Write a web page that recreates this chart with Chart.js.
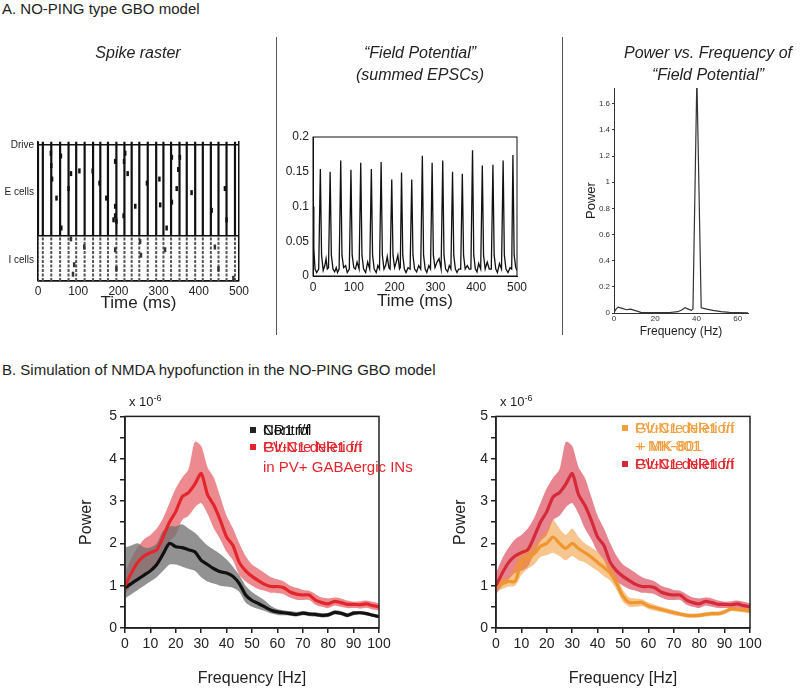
<!DOCTYPE html>
<html>
<head>
<meta charset="utf-8">
<script src="https://cdn.jsdelivr.net/npm/chart.js@4.4.1/dist/chart.umd.min.js"></script>
<style>
  body { margin: 0; background: #fff; width: 800px; height: 688px; position: relative; overflow: hidden;
         font-family: "Liberation Sans", Arial, sans-serif; color: #222; }
  .t { position: absolute; white-space: nowrap; line-height: 18px; z-index: 2; }
  .it { font-style: italic; font-size: 16px; text-align: center; width: 260px; }
  .sep { position: absolute; width: 1px; background: #555; }
  .sq { position: absolute; width: 6px; height: 6px; z-index: 2; }
  .lg { font-size: 15px; }
  canvas { position: absolute; }
</style>
</head>
<body>
<div class="t" style="left:2px;top:0px;font-size:15px">A. NO-PING type GBO model</div>
<div class="t it" style="left:8px;top:44px">Spike raster</div>
<div class="t it" style="left:290px;top:44px">“Field Potential”</div>
<div class="t it" style="left:290px;top:66px">(summed EPSCs)</div>
<div class="t it" style="left:578px;top:44px">Power vs. Frequency of</div>
<div class="t it" style="left:578px;top:66px">“Field Potential”</div>
<div class="sep" style="left:276px;top:37px;height:298px"></div>
<div class="sep" style="left:562px;top:37px;height:298px"></div>

<div class="t" style="left:2px;top:361px;font-size:15px">B. Simulation of NMDA hypofunction in the NO-PING GBO model</div>

<div class="t" style="left:129px;top:389px;font-size:13px">x 10<sup style="font-size:9px">-6</sup></div>
<div class="t" style="left:500px;top:389px;font-size:13px">x 10<sup style="font-size:9px">-6</sup></div>

<!-- legend, left -->
<div class="sq" style="left:250px;top:427px;background:#222"></div>
<div class="t lg" style="left:263px;top:421px;color:#111">Control</div>
<div class="t lg" style="left:263px;top:421px;color:#111">NR1 f/f</div>
<div class="sq" style="left:250px;top:444px;background:#e3262c"></div>
<div class="t lg" style="left:263px;top:438px;color:#e3262c">GluN1 deletion</div>
<div class="t lg" style="left:263px;top:438px;color:#e3262c">PV-Cre NR1 f/f</div>
<div class="t lg" style="left:263px;top:458px;color:#e3262c">in PV+ GABAergic INs</div>

<!-- legend, right -->
<div class="sq" style="left:622px;top:425px;background:#f0a040"></div>
<div class="t lg" style="left:635px;top:419px;color:#f0a040">GluN1 deletion</div>
<div class="t lg" style="left:635px;top:419px;color:#f0a040">PV-Cre NR1 f/f</div>
<div class="t lg" style="left:635px;top:437px;color:#f0a040">+ MK-801</div>
<div class="t lg" style="left:637px;top:437px;color:#f0a040">+ MK-801</div>
<div class="sq" style="left:622px;top:461px;background:#d42a3a"></div>
<div class="t lg" style="left:635px;top:455px;color:#e0282e">GluN1 deletion</div>
<div class="t lg" style="left:635px;top:455px;color:#e0282e">PV-Cre NR1 f/f</div>

<script>
// ---- A: spike raster ----
const cycleTimes = [0, 12, 33, 55, 76, 95, 116, 137, 155, 174, 195, 215, 233, 252, 273, 294, 312, 331, 352, 370, 391, 410, 430, 449, 469, 490];
const rowEdges = [0, 33, 100];          // I cells 0-33, E cells 33-100, drive at top
const driveTop = 102.5;
const rowLabels = ['I cells', 'E cells', 'Drive'];
const rowLabelAt = [15, 65, 100];
const eSpikeT   = [32, 57, 33, 103, 82, 35, 76, 46, 153, 136, 170, 192, 217, 214, 223, 192, 192, 188, 195, 213, 242, 271, 302, 304, 333, 353, 349, 345, 333, 320, 382, 432, 465, 469, 58];
const eSpikeRow = [94, 92, 85, 81, 79, 75, 68, 61, 72, 81, 61, 88, 94, 88, 79, 55, 48, 45, 44, 48, 55, 72, 75, 56, 91, 91, 82, 68, 58, 39, 65, 52, 68, 45, 39];
const iSpikeT   = [82, 115, 90, 87, 192, 195, 254, 256, 316, 440, 449, 486];
const iSpikeRow = [31, 25, 12, 5, 23, 9, 29, 19, 23, 25, 9, 2];

// ---- A: field potential ----
const fpTime = [0, 2, 5, 9, 14, 18, 21, 25, 29, 32, 35, 38, 42, 45, 49, 53, 57, 60, 64, 68, 71, 75, 80, 84, 89, 93, 96, 100, 104, 108, 113, 117, 120, 124, 129, 134, 139, 143, 146, 150, 155, 159, 163, 167, 170, 174, 178, 182, 186, 189, 193, 196, 200, 204, 208, 212, 214, 217, 220, 224, 228, 233, 238, 242, 245, 249, 254, 259, 264, 268, 271, 275, 279, 284, 288, 292, 295, 299, 304, 309, 314, 318, 321, 325, 330, 334, 338, 342, 345, 349, 353, 357, 362, 366, 369, 373, 378, 383, 387, 391, 394, 398, 402, 406, 411, 415, 418, 422, 427, 432, 437, 441, 444, 448, 452, 457, 462, 466, 469, 473, 478, 483, 487, 490, 493, 497, 500];
const fpValue = [0.1, 0.04, 0.01, 0.005, 0.01, 0.154, 0.03, 0.008, 0.015, 0.025, 0.01, 0.012, 0.15, 0.03, 0.01, 0.006, 0.012, 0.005, 0.01, 0.166, 0.03, 0.012, 0.015, 0.005, 0.01, 0.153, 0.03, 0.012, 0.01, 0.02, 0.01, 0.163, 0.03, 0.01, 0.005, 0.02, 0.01, 0.154, 0.03, 0.01, 0.005, 0.015, 0.01, 0.164, 0.03, 0.01, 0.015, 0.028, 0.012, 0.01, 0.139, 0.03, 0.012, 0.02, 0.03, 0.01, 0.012, 0.149, 0.03, 0.01, 0.005, 0.012, 0.01, 0.139, 0.03, 0.01, 0.006, 0.015, 0.01, 0.173, 0.03, 0.01, 0.005, 0.015, 0.01, 0.163, 0.03, 0.012, 0.02, 0.025, 0.01, 0.166, 0.03, 0.01, 0.006, 0.015, 0.01, 0.15, 0.03, 0.01, 0.005, 0.01, 0.01, 0.147, 0.03, 0.01, 0.015, 0.01, 0.01, 0.181, 0.03, 0.01, 0.006, 0.018, 0.01, 0.159, 0.03, 0.01, 0.02, 0.01, 0.01, 0.16, 0.03, 0.01, 0.005, 0.018, 0.01, 0.166, 0.03, 0.01, 0.005, 0.012, 0.01, 0.174, 0.03, 0.012, 0.008];
const fpTicks = [0, 0.05, 0.1, 0.15, 0.2];

// ---- A: power spectrum ----
const psFreq  = [0, 1, 2, 4, 6, 8, 10, 13, 17, 22, 27, 31, 33, 34.5, 36, 37.5, 38.3, 40.2, 42.3, 45, 48, 52, 56, 60, 65];
const psPower = [0.005, 0.03, 0.045, 0.035, 0.025, 0.03, 0.02, 0.005, 0.003, 0.003, 0.004, 0.01, 0.025, 0.04, 0.03, 0.02, 0.03, 1.8, 0.04, 0.03, 0.02, 0.01, 0.005, 0.003, 0.002];
const psFreqTicks = [0, 20, 40, 60];
const psPowerTicks = [0, 0.2, 0.4, 0.6, 0.8, 1, 1.2, 1.4, 1.6];

// ---- B: spectra (power x 1e-6) ----
const freqB = [0, 2.5, 5, 7.5, 10, 12.5, 15, 17.5, 20, 22.5, 25, 27.5, 30, 32.5, 35, 37.5, 40, 42.5, 45, 47.5, 50, 52.5, 55, 57.5, 60, 62.5, 65, 67.5, 70, 72.5, 75, 77.5, 80, 82.5, 85, 87.5, 90, 92.5, 95, 97.5, 100];
const koMean = [1.0, 1.3, 1.55, 1.7, 1.78, 1.85, 2.15, 2.5, 2.75, 3.1, 3.2, 3.4, 3.65, 3.15, 2.9, 2.55, 2.15, 1.95, 1.55, 1.35, 1.22, 1.12, 1.03, 0.98, 0.98, 0.95, 0.85, 0.8, 0.78, 0.78, 0.66, 0.6, 0.57, 0.63, 0.6, 0.56, 0.56, 0.55, 0.57, 0.53, 0.5];
const koHi   = [1.3, 1.65, 1.9, 2.1, 2.2, 2.35, 2.6, 2.95, 3.3, 3.55, 3.75, 4.4, 4.3, 3.8, 3.55, 3.1, 2.65, 2.35, 2.0, 1.7, 1.5, 1.4, 1.3, 1.2, 1.15, 1.1, 1.0, 0.95, 0.9, 0.88, 0.8, 0.72, 0.7, 0.72, 0.7, 0.65, 0.62, 0.63, 0.65, 0.62, 0.58];
const koLo   = [0.8, 1.0, 1.15, 1.3, 1.35, 1.45, 1.75, 2.05, 2.2, 2.55, 2.65, 2.85, 2.95, 2.7, 2.35, 2.1, 1.8, 1.6, 1.25, 1.1, 1.0, 0.92, 0.88, 0.83, 0.82, 0.8, 0.72, 0.67, 0.66, 0.66, 0.55, 0.5, 0.47, 0.53, 0.5, 0.47, 0.47, 0.46, 0.48, 0.44, 0.42];
const ctrlMean = [0.95, 1.05, 1.15, 1.25, 1.35, 1.5, 1.75, 2.0, 1.92, 1.9, 1.85, 1.8, 1.6, 1.5, 1.4, 1.33, 1.3, 1.22, 1.05, 0.78, 0.65, 0.58, 0.5, 0.42, 0.38, 0.36, 0.34, 0.32, 0.35, 0.33, 0.32, 0.3, 0.31, 0.37, 0.35, 0.3, 0.35, 0.36, 0.34, 0.3, 0.27];
const ctrlHi   = [1.9, 1.95, 2.0, 1.9, 1.9, 2.0, 2.3, 2.4, 2.4, 2.45, 2.35, 2.25, 2.1, 1.95, 1.85, 1.75, 1.62, 1.45, 1.25, 1.0, 0.85, 0.75, 0.65, 0.52, 0.45, 0.42, 0.4, 0.38, 0.4, 0.38, 0.37, 0.35, 0.36, 0.42, 0.4, 0.35, 0.4, 0.4, 0.38, 0.34, 0.31];
const ctrlLo   = [0.7, 0.8, 0.9, 1.0, 1.1, 1.2, 1.35, 1.5, 1.5, 1.45, 1.4, 1.35, 1.2, 1.1, 1.05, 1.0, 0.98, 0.95, 0.85, 0.6, 0.5, 0.45, 0.4, 0.34, 0.31, 0.3, 0.29, 0.27, 0.3, 0.28, 0.27, 0.25, 0.26, 0.32, 0.3, 0.25, 0.3, 0.32, 0.3, 0.26, 0.23];
const mkMean = [1.02, 1.05, 1.1, 1.1, 1.55, 1.65, 1.75, 1.93, 2.0, 2.15, 2.0, 1.88, 2.0, 1.88, 1.78, 1.68, 1.55, 1.43, 1.3, 1.05, 0.75, 0.6, 0.6, 0.6, 0.52, 0.48, 0.44, 0.4, 0.36, 0.33, 0.3, 0.29, 0.3, 0.32, 0.34, 0.34, 0.38, 0.45, 0.44, 0.42, 0.4];
const mkHi   = [1.15, 1.18, 1.2, 1.5, 1.85, 1.9, 1.95, 2.15, 2.3, 2.55, 2.35, 2.2, 2.35, 2.15, 2.0, 1.9, 1.8, 1.65, 1.48, 1.2, 0.9, 0.72, 0.7, 0.68, 0.6, 0.55, 0.5, 0.46, 0.42, 0.38, 0.35, 0.34, 0.35, 0.37, 0.39, 0.39, 0.43, 0.5, 0.49, 0.47, 0.45];
const mkLo   = [0.88, 0.92, 0.98, 1.0, 1.25, 1.4, 1.5, 1.68, 1.72, 1.78, 1.7, 1.6, 1.7, 1.6, 1.55, 1.45, 1.35, 1.22, 1.12, 0.9, 0.62, 0.5, 0.5, 0.52, 0.45, 0.41, 0.38, 0.34, 0.3, 0.28, 0.25, 0.24, 0.25, 0.27, 0.29, 0.29, 0.33, 0.4, 0.39, 0.37, 0.35];

Chart.defaults.font.family = '"Liberation Sans", Arial, sans-serif';
Chart.defaults.color = '#222';
Chart.defaults.animation = false;
Chart.defaults.plugins.legend.display = false;
Chart.defaults.plugins.tooltip.enabled = false;

// box around the plot area
Chart.register({
  id: 'frame',
  defaults: { show: false },
  afterDatasetsDraw(chart, args, opts) {
    if (!opts.show) return;
    const a = chart.chartArea, c = chart.ctx;
    c.save();
    c.strokeStyle = opts.color || '#222';
    c.lineWidth = opts.width || 1;
    c.strokeRect(a.left, a.top, a.right - a.left, a.bottom - a.top);
    c.restore();
  }
});

function place(left, top, w, h) {
  const c = document.createElement('canvas');
  c.width = w; c.height = h;
  c.style.left = left + 'px'; c.style.top = top + 'px';
  c.style.width = w + 'px'; c.style.height = h + 'px';
  document.body.appendChild(c);
  return c.getContext('2d');
}
const pts = (xs, ys) => xs.map((x, i) => ({x: x, y: ys[i]}));
const fixTicks = vals => s => { s.ticks = vals.map(v => ({value: v})); };

// columns of near-synchronous spikes, one segment per cycle
function columns(lo, hi) {
  const out = [];
  cycleTimes.forEach(t => { out.push({x: t, y: lo}, {x: t, y: hi}, {x: t, y: null}); });
  return out;
}

// raster
new Chart(place(0, 130, 262, 190), {
  type: 'scatter',
  data: {
    datasets: [
      { data: pts(eSpikeT, eSpikeRow), pointStyle: 'line', pointRotation: 90, pointRadius: 2.5,
        pointBorderWidth: 2.5, borderColor: '#111' },
      { data: pts(iSpikeT, iSpikeRow), pointStyle: 'line', pointRotation: 90, pointRadius: 2.5,
        pointBorderWidth: 2.5, borderColor: '#333' },
      { data: columns(rowEdges[1], driveTop), showLine: true, spanGaps: false, pointRadius: 0,
        borderColor: '#111', borderWidth: 2.2 },
      { data: columns(rowEdges[0], rowEdges[1]), showLine: true, spanGaps: false, pointRadius: 0,
        borderColor: '#555', borderWidth: 2, borderDash: [3, 1.5] }
    ]
  },
  options: {
    responsive: false, devicePixelRatio: 1,
    layout: { padding: { top: 11, right: 23, left: 0, bottom: 0 } },
    scales: {
      x: { min: 0, max: 500, ticks: { stepSize: 100, font: { size: 12 }, padding: 3, maxRotation: 0 },
           grid: { drawTicks: false, lineWidth: 1.5,
                   color: c => (c.tick && (c.tick.value === 0 || c.tick.value === 500)) ? '#111' : 'rgba(0,0,0,0)' },
           border: { color: '#111', width: 1.5 },
           title: { display: true, text: 'Time (ms)', font: { size: 17 }, padding: { top: 0, bottom: 6 } },
           afterFit: s => { s.height = 39; } },
      y: { min: 0, max: 103, position: 'left',
           afterBuildTicks: fixTicks(rowEdges),
           ticks: { display: false }, grid: { color: '#111', lineWidth: 1.5, drawTicks: false },
           border: { display: false }, afterFit: s => { s.width = 0; } },
      rows: { min: 0, max: 103, position: 'left',
           afterBuildTicks: fixTicks(rowLabelAt),
           ticks: { font: { size: 10 }, padding: 4, callback: (v, i) => rowLabels[i] },
           grid: { display: false, drawTicks: false }, border: { display: false },
           afterFit: s => { s.width = 38; } }
    }
  }
});

// field potential
new Chart(place(270, 125, 262, 195), {
  type: 'line',
  data: { datasets: [ { data: pts(fpTime, fpValue), borderColor: '#111', borderWidth: 1.3, pointRadius: 0 } ] },
  options: {
    responsive: false, devicePixelRatio: 1,
    layout: { padding: { top: 12, right: 15, left: 0, bottom: 0 } },
    plugins: { frame: { show: true, color: '#111', width: 1 } },
    scales: {
      x: { type: 'linear', min: 0, max: 500, ticks: { stepSize: 100, font: { size: 12 }, padding: 4, maxRotation: 0 },
           grid: { display: false, drawTicks: false }, border: { color: '#111' },
           title: { display: true, text: 'Time (ms)', font: { size: 17 }, padding: { top: 0, bottom: 8 } },
           afterFit: s => { s.height = 44; } },
      y: { min: 0, max: 0.2, afterBuildTicks: fixTicks(fpTicks),
           ticks: { font: { size: 12 }, padding: 4, callback: v => String(v) },
           grid: { display: false, drawTicks: false }, border: { color: '#111' },
           afterFit: s => { s.width = 43; } }
    }
  }
});

// power spectrum of field potential
new Chart(place(565, 80, 195, 265), {
  type: 'line',
  data: { datasets: [ { data: pts(psFreq, psPower), borderColor: '#333', borderWidth: 1.2, pointRadius: 0 } ] },
  options: {
    responsive: false, devicePixelRatio: 1,
    layout: { padding: { top: 8, right: 12, left: 0, bottom: 0 } },
    scales: {
      x: { type: 'linear', min: 0, max: 65, afterBuildTicks: fixTicks(psFreqTicks),
           ticks: { font: { size: 8 }, padding: 1, color: '#333', maxRotation: 0, autoSkip: false },
           grid: { display: false, drawTicks: false }, border: { color: '#333' },
           title: { display: true, text: 'Frequency (Hz)', font: { size: 12 }, padding: { top: 0, bottom: 6 } },
           afterFit: s => { s.height = 32; } },
      y: { min: 0, max: 1.72, afterBuildTicks: fixTicks(psPowerTicks),
           ticks: { font: { size: 8 }, padding: 2, color: '#333', callback: v => String(v) },
           grid: { drawOnChartArea: false, tickLength: 2, color: '#333' }, border: { color: '#333' },
           title: { display: true, text: 'Power', font: { size: 13 }, padding: { top: 19, bottom: 0 } },
           afterFit: s => { s.width = 49; } }
    }
  }
});

// B panels
function bandChart(left, titlePad, sets) {
  new Chart(place(left, 405, 340, 283), {
    type: 'line',
    data: { datasets: sets },
    options: {
      responsive: false, devicePixelRatio: 1,
      layout: { padding: { top: 8, right: 21, left: 0, bottom: 0 } },
      elements: { point: { radius: 0 }, line: { tension: 0.25 } },
      plugins: { frame: { show: true, color: '#222', width: 1.5 } },
      scales: {
        x: { type: 'linear', min: 0, max: 100,
             ticks: { stepSize: 10, font: { size: 14 }, padding: 3, maxRotation: 0, autoSkip: false },
             grid: { drawOnChartArea: false, tickLength: 5, color: '#222', lineWidth: 1.5 },
             border: { color: '#222', width: 1.5 },
             title: { display: true, text: 'Frequency [Hz]', font: { size: 16 }, padding: { top: 0, bottom: 0 } },
             afterFit: s => { s.height = 60; } },
        y: { min: 0, max: 5,
             ticks: { stepSize: 0.5, font: { size: 14 }, padding: 3, autoSkip: false,
                      callback: v => Number.isInteger(v) ? String(v) : '' },
             grid: { drawOnChartArea: false, tickLength: 5, color: '#222', lineWidth: 1.5 },
             border: { color: '#222', width: 1.5 },
             title: { display: true, text: 'Power', font: { size: 16 }, padding: { top: titlePad, bottom: 0 } },
             afterFit: s => { s.width = 65; } }
      }
    }
  });
}
const clear = 'rgba(0,0,0,0)';

bandChart(60, 17, [
  { data: pts(freqB, koMean), borderColor: '#e3262c', borderWidth: 3.2, fill: false },
  { data: pts(freqB, ctrlMean), borderColor: '#111', borderWidth: 3.2, fill: false },
  { data: pts(freqB, ctrlHi), borderColor: clear, borderWidth: 0, fill: '+1', backgroundColor: 'rgba(110,110,110,0.75)' },
  { data: pts(freqB, ctrlLo), borderColor: clear, borderWidth: 0, fill: false },
  { data: pts(freqB, koHi), borderColor: clear, borderWidth: 0, fill: '+1', backgroundColor: 'rgba(225,60,70,0.6)' },
  { data: pts(freqB, koLo), borderColor: clear, borderWidth: 0, fill: false }
]);

bandChart(431, 20, [
  { data: pts(freqB, koMean), borderColor: '#d42a3a', borderWidth: 3.2, fill: false },
  { data: pts(freqB, mkMean), borderColor: '#f0962e', borderWidth: 3.2, fill: false },
  { data: pts(freqB, mkHi), borderColor: clear, borderWidth: 0, fill: '+1', backgroundColor: 'rgba(240,150,50,0.55)' },
  { data: pts(freqB, mkLo), borderColor: clear, borderWidth: 0, fill: false },
  { data: pts(freqB, koHi), borderColor: clear, borderWidth: 0, fill: '+1', backgroundColor: 'rgba(215,50,70,0.6)' },
  { data: pts(freqB, koLo), borderColor: clear, borderWidth: 0, fill: false }
]);
</script>
</body>
</html>
